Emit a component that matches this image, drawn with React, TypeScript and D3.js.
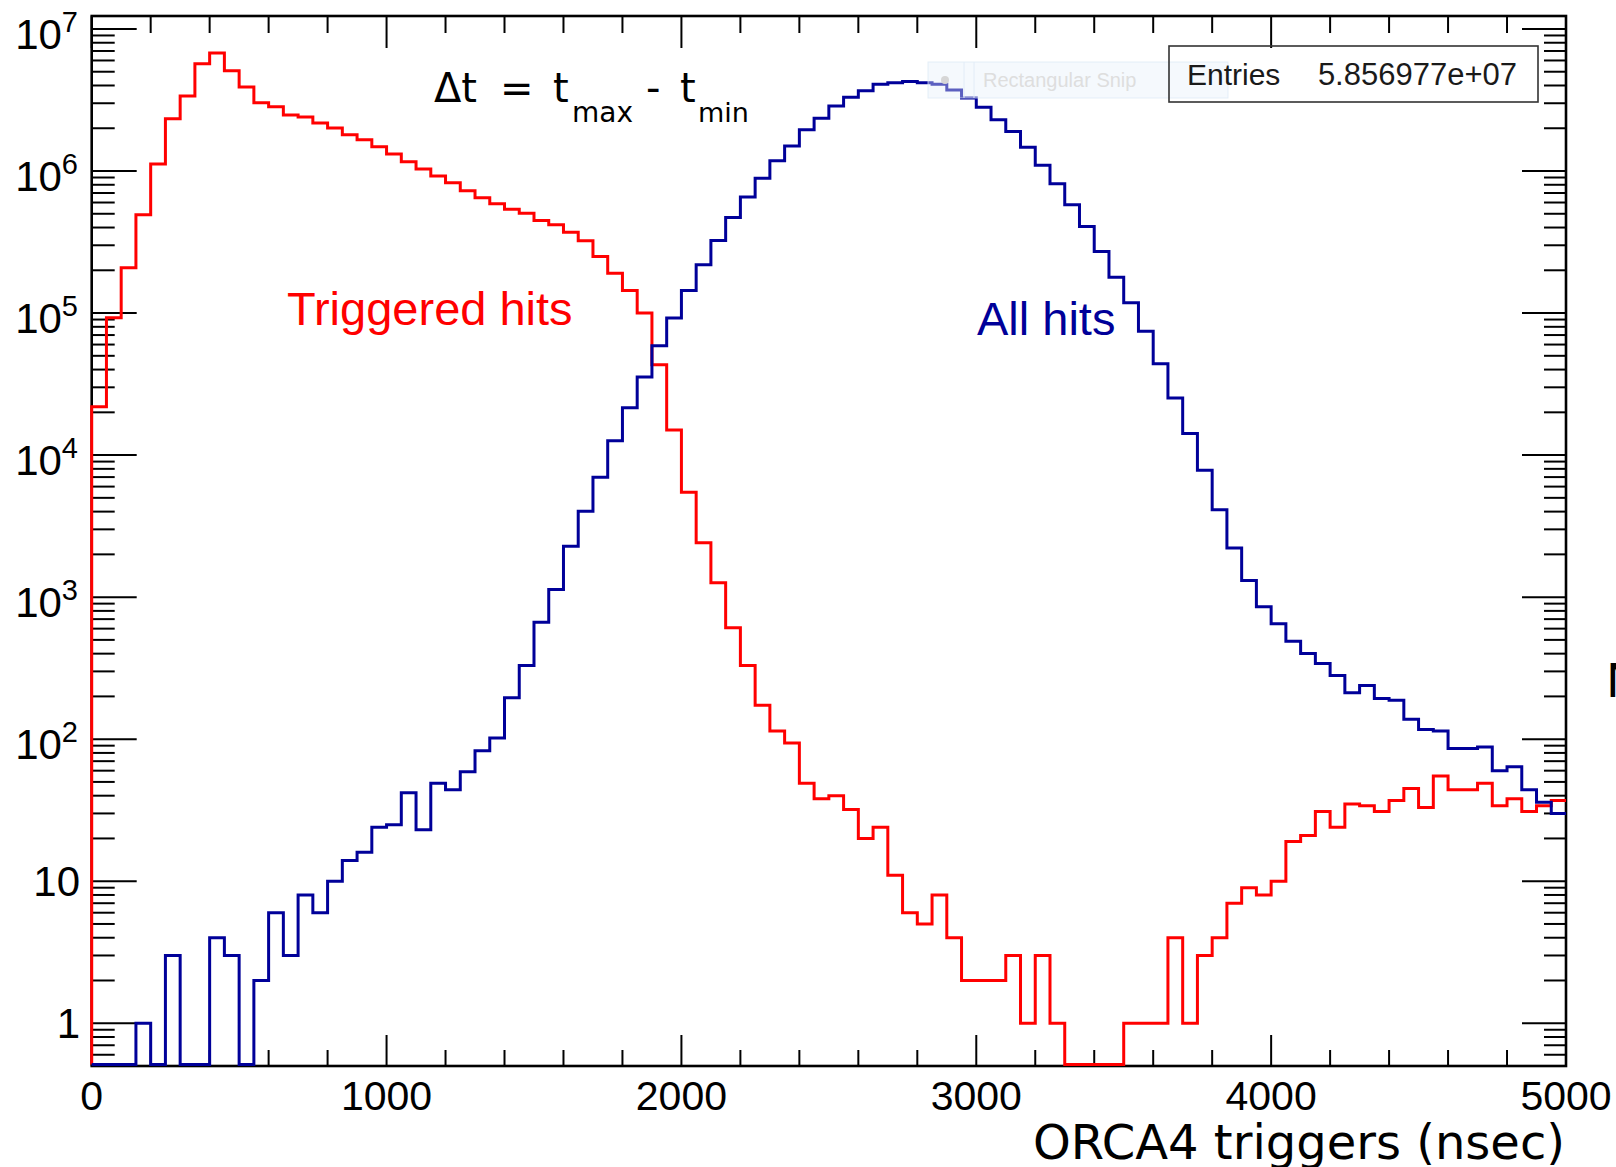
import React from "react";
import * as d3 from "d3";

// ---------------- DATA ----------------
const BIN_WIDTH = 50; // nsec
const X_DOMAIN: [number, number] = [0, 5000];
const Y_DOMAIN: [number, number] = [0.5, 1.234e7];

// Triggered hits (red), 100 bins of 50 ns
const triggeredHits = [
  21900, 92700, 208000, 492000, 1120000, 2330000, 3380000, 5680000, 6780000, 5070000,
  3910000, 3020000, 2830000, 2480000, 2400000, 2180000, 2010000, 1800000, 1660000, 1480000,
  1320000, 1160000, 1035000, 924000, 826000, 725000, 647000, 587000, 539000, 505000,
  448000, 418000, 371000, 323000, 250000, 191000, 144000, 100000, 43300, 15000,
  5470, 2410, 1260, 608, 330, 173, 114, 94, 49, 38,
  40, 32, 20, 24, 11, 6, 5, 8, 4, 2,
  2, 2, 3, 1, 3, 1, 0, 0, 0, 0,
  1, 1, 1, 4, 1, 3, 4, 7, 9, 8,
  10, 19, 21, 31, 24, 35, 34, 31, 37, 45,
  33, 55, 44, 44, 49, 34, 38, 31, 34, 37,
];

// All hits (blue), 100 bins of 50 ns
const allHits = [
  0, 0, 0, 1, 0, 3, 0, 0, 4, 3,
  0, 2, 6, 3, 8, 6, 10, 14, 16, 24,
  25, 42, 23, 49, 44, 59, 83, 102, 196, 330,
  666, 1131, 2280, 4020, 6970, 12640, 21500, 35500, 58900, 92300,
  144000, 219000, 324000, 471000, 655000, 891000, 1180000, 1500000, 1950000, 2350000,
  2870000, 3310000, 3680000, 4080000, 4190000, 4260000, 4190000, 4080000, 3720000, 3260000,
  2810000, 2300000, 1900000, 1470000, 1100000, 812000, 578000, 407000, 271000, 179000,
  118000, 74300, 44000, 25200, 14200, 7810, 4130, 2220, 1310, 855,
  649, 490, 401, 341, 281, 212, 239, 193, 188, 138,
  117, 114, 86, 86, 88, 60, 64, 44, 36, 30,
];

const xMajorTicks = [0, 1000, 2000, 3000, 4000, 5000];
const xTickLabels = ["0", "1000", "2000", "3000", "4000", "5000"];
const yDecades = [1, 10, 100, 1e3, 1e4, 1e5, 1e6, 1e7];
const yTickBase = ["1", "10", "10", "10", "10", "10", "10", "10"];
const yTickExp = ["", "", "2", "3", "4", "5", "6", "7"];

const xTitle = "ORCA4 triggers (nsec)";
const redLabel = "Triggered hits";
const blueLabel = "All hits";
const statName = "Entries";
const statValue = "5.856977e+07";

// ---------------- STYLE / LAYOUT ----------------
const W = 1616;
const H = 1167;
const FRAME = { left: 91.7, right: 1566, top: 16, bottom: 1066 };
const RED = "#ff0000";
const BLUE = "#000099";
const SANS = "'Liberation Sans', Arial, Helvetica, sans-serif";
const DEJAVU = "'DejaVu Sans', Verdana, sans-serif";

export default function App() {
  const x = d3.scaleLinear().domain(X_DOMAIN).range([FRAME.left, FRAME.right]);
  const y = d3.scaleLog().domain(Y_DOMAIN).range([FRAME.bottom, FRAME.top]);

  const floor = 0.513; // zero bins drawn at the frame bottom
  const histPoints = (vals: number[]): [number, number][] => {
    const pts: [number, number][] = [[X_DOMAIN[0], floor]];
    vals.forEach((v, i) => {
      const yv = Math.max(v, floor);
      pts.push([X_DOMAIN[0] + i * BIN_WIDTH, yv]);
      pts.push([X_DOMAIN[0] + (i + 1) * BIN_WIDTH, yv]);
    });
    return pts;
  };
  const line = d3
    .line<[number, number]>()
    .x((d) => x(d[0]))
    .y((d) => y(d[1]));

  const xMinor = d3.range(X_DOMAIN[0], X_DOMAIN[1] + 1, 200).filter((v) => v % 1000 !== 0);
  const yMinor: number[] = [];
  [0.1, 1, 10, 100, 1e3, 1e4, 1e5, 1e6, 1e7].forEach((d) => {
    for (let m = 2; m <= 9; m++) {
      const v = m * d;
      if (v >= Y_DOMAIN[0] && v <= Y_DOMAIN[1]) yMinor.push(v);
    }
  });

  const tickStroke = { stroke: "#000", strokeWidth: 2 };

  return (
    <div style={{ position: "absolute", left: 0, top: 0 }}>
      <svg width={W} height={H} style={{ display: "block", background: "#fff" }}>
        <rect x={0} y={0} width={W} height={H} fill="#fff" />

        {/* Frame */}
        <rect
          x={FRAME.left}
          y={FRAME.top}
          width={FRAME.right - FRAME.left}
          height={FRAME.bottom - FRAME.top}
          fill="none"
          stroke="#000"
          strokeWidth={2.6}
        />

        {/* X ticks (bottom and top) */}
        {xMajorTicks.map((v) => (
          <g key={"xM" + v}>
            <line x1={x(v)} x2={x(v)} y1={FRAME.bottom} y2={FRAME.bottom - 31} {...tickStroke} />
            <line x1={x(v)} x2={x(v)} y1={FRAME.top} y2={FRAME.top + 32} {...tickStroke} />
          </g>
        ))}
        {xMinor.map((v) => (
          <g key={"xm" + v}>
            <line x1={x(v)} x2={x(v)} y1={FRAME.bottom} y2={FRAME.bottom - 16} {...tickStroke} />
            <line x1={x(v)} x2={x(v)} y1={FRAME.top} y2={FRAME.top + 17} {...tickStroke} />
          </g>
        ))}

        {/* Y ticks (left and right) */}
        {yDecades.map((v) => (
          <g key={"yM" + v}>
            <line x1={FRAME.left} x2={FRAME.left + 45} y1={y(v)} y2={y(v)} {...tickStroke} />
            <line x1={FRAME.right} x2={FRAME.right - 44} y1={y(v)} y2={y(v)} {...tickStroke} />
          </g>
        ))}
        {yMinor.map((v) => (
          <g key={"ym" + v}>
            <line x1={FRAME.left} x2={FRAME.left + 23} y1={y(v)} y2={y(v)} {...tickStroke} />
            <line x1={FRAME.right} x2={FRAME.right - 22} y1={y(v)} y2={y(v)} {...tickStroke} />
          </g>
        ))}

        {/* X tick labels */}
        {xMajorTicks.map((v, i) => (
          <text
            key={"xl" + v}
            x={x(v)}
            y={1110}
            textAnchor="middle"
            fontFamily={SANS}
            fontSize={41}
            fill="#000"
          >
            {xTickLabels[i]}
          </text>
        ))}

        {/* Y tick labels */}
        {yDecades.map((v, i) =>
          yTickExp[i] ? (
            <text
              key={"yl" + v}
              x={78}
              y={y(v) + 20}
              textAnchor="end"
              fontFamily={SANS}
              fontSize={42}
              fill="#000"
            >
              {yTickBase[i]}
              <tspan dy={-17} fontSize={29}>
                {yTickExp[i]}
              </tspan>
            </text>
          ) : (
            <text
              key={"yl" + v}
              x={80}
              y={y(v) + 15}
              textAnchor="end"
              fontFamily={SANS}
              fontSize={42}
              fill="#000"
            >
              {yTickBase[i]}
            </text>
          )
        )}

        {/* Histograms */}
        <path d={line(histPoints(triggeredHits)) || ""} fill="none" stroke={RED} strokeWidth={3} />
        <path d={line(histPoints(allHits)) || ""} fill="none" stroke={BLUE} strokeWidth={3} />

        {/* Axis title */}
        <text x={1565} y={1159} textAnchor="end" fontFamily={DEJAVU} fontSize={48} fill="#000">
          {xTitle}
        </text>

        {/* Delta t formula */}
        <g fontFamily={DEJAVU} fill="#000">
          <text x={434} y={102} fontSize={40}>Δt</text>
          <text x={500} y={102} fontSize={40}>=</text>
          <text x={553} y={102} fontSize={40}>t</text>
          <text x={572} y={122} fontSize={28}>max</text>
          <text x={646} y={102} fontSize={40}>-</text>
          <text x={680} y={102} fontSize={40}>t</text>
          <text x={698} y={122} fontSize={27}>min</text>
        </g>

        {/* Curve labels */}
        <text x={287} y={325} fontFamily={SANS} fontSize={47} fill={RED}>
          {redLabel}
        </text>
        <text x={977} y={335} fontFamily={SANS} fontSize={47} fill={BLUE}>
          {blueLabel}
        </text>

        {/* Snip overlay (faint, semi-transparent over the plot) */}
        <g>
          <rect x={928} y={62} width={300} height={36} fill="#e6f0fb" fillOpacity={0.4} stroke="#dce8f5" strokeWidth={1} strokeOpacity={0.7} />
          <line x1={964} x2={964} y1={62} y2={98} stroke="#e2ecf7" strokeWidth={1} />
          <line x1={974} x2={974} y1={62} y2={98} stroke="#e2ecf7" strokeWidth={1} />
          <circle cx={945} cy={80} r={4} fill="#d6d6d6" />
          <text x={983} y={87} fontFamily={SANS} fontSize={20} fill="#dedede">
            Rectangular Snip
          </text>
        </g>

        {/* Stats box */}
        <rect x={1169} y={46} width={369} height={56} fill="none" stroke="#333" strokeWidth={1.6} />
        <text x={1187} y={85} fontFamily={SANS} fontSize={30} fill="#1a1a1a">
          {statName}
        </text>
        <text x={1517} y={85} textAnchor="end" fontFamily={SANS} fontSize={31} fill="#1a1a1a">
          {statValue}
        </text>

        {/* Cut-off glyph at right edge */}
        <text x={1606} y={697} fontFamily={DEJAVU} fontSize={47} fill="#000">
          N
        </text>
      </svg>
    </div>
  );
}
